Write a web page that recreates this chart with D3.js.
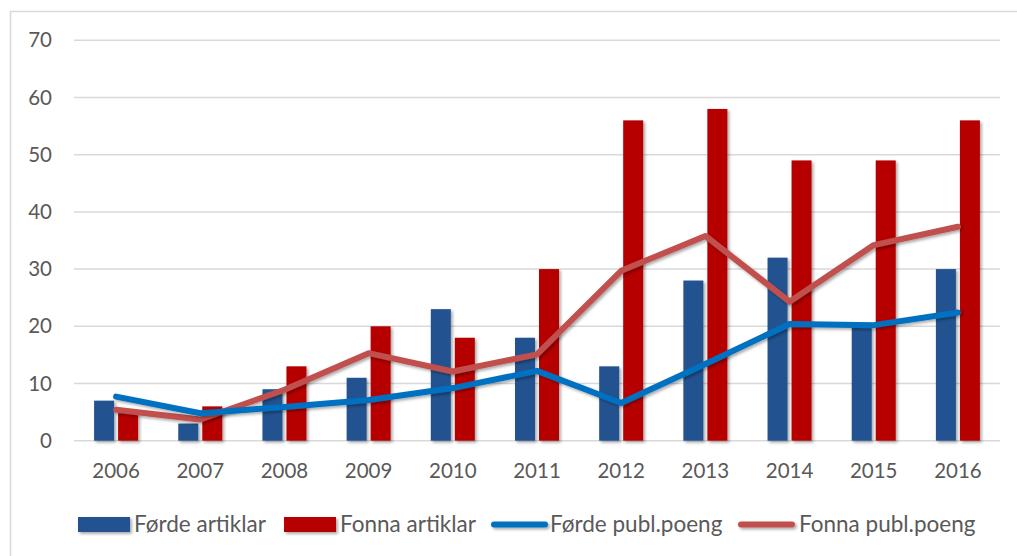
<!DOCTYPE html>
<html>
<head>
<meta charset="utf-8">
<script src="https://cdn.jsdelivr.net/npm/d3@7"></script>
<style>
html,body{margin:0;padding:0;background:#fff;}
svg{display:block;}
</style>
</head>
<body>
<svg id="chart" width="1017" height="556"></svg>
<script>
const years = ["2006","2007","2008","2009","2010","2011","2012","2013","2014","2015","2016"];
const fordeArtiklar = [7,3,9,11,23,18,13,28,32,20,30];
const fonnaArtiklar = [5,6,13,20,18,30,56,58,49,49,56];
const fordePoeng = [7.7,4.8,5.9,7.1,9.2,12.2,6.6,13.4,20.4,20.2,22.4];
const fonnaPoeng = [5.4,3.7,8.9,15.3,12.1,15.1,29.7,35.8,24.3,34.2,37.4];
const yTicks = [0,10,20,30,40,50,60,70];
const seriesNames = ["Førde artiklar","Fonna artiklar","Førde publ.poeng","Fonna publ.poeng"];
const colors = {bar1:"#245390", bar2:"#B60606", line1:"#0070C0", line2:"#C0504D"};

const svg = d3.select("#chart");
const font = "Lato, 'Open Sans', sans-serif";

const defs = svg.append("defs");
const f = defs.append("filter").attr("id","shadow").attr("filterUnits","userSpaceOnUse")
  .attr("x",0).attr("y",0).attr("width",1017).attr("height",556);
f.append("feDropShadow").attr("dx",1.8).attr("dy",1.8).attr("stdDeviation",1.4).attr("flood-color","#000").attr("flood-opacity",0.35);

// outer frame
svg.append("rect").attr("x",10.5).attr("y",11.5).attr("width",1012).attr("height",560)
  .attr("fill","none").attr("stroke","#d9d9d9").attr("stroke-width",1.5);

const x = d3.scaleBand().domain(years).range([74,1000]).padding(0);
const y = d3.scaleLinear().domain([0,70]).range([440.7,40.3]);
const x1 = d3.scaleBand().domain(["a","b"]).range([-22,22]).paddingInner(1/6);

// grid
svg.append("g").selectAll("line").data(yTicks).join("line")
  .attr("x1",74).attr("x2",1000)
  .attr("y1",d=>y(d)).attr("y2",d=>y(d))
  .attr("stroke","#d9d9d9").attr("stroke-width",1.5);

// y axis labels
svg.append("g").selectAll("text").data(yTicks).join("text")
  .attr("x",52).attr("y",d=>y(d)).attr("dy","0.35em")
  .attr("text-anchor","end").attr("font-family",font).attr("font-size",20.5)
  .attr("fill","#595959").text(d=>d);

// x axis labels
svg.append("g").selectAll("text").data(years).join("text")
  .attr("x",d=>x(d)+x.bandwidth()/2).attr("y",471).attr("dy","0.35em")
  .attr("text-anchor","middle").attr("font-family",font).attr("font-size",20.5)
  .attr("fill","#595959").text(d=>d);

const cx = d => x(d)+x.bandwidth()/2;

// bars
const bars = svg.append("g").attr("filter","url(#shadow)");
bars.selectAll("rect.b1").data(years).join("rect").attr("class","b1")
  .attr("x",(d)=>cx(d)+x1("a")).attr("width",x1.bandwidth())
  .attr("y",(d,i)=>y(fordeArtiklar[i])).attr("height",(d,i)=>y(0)-y(fordeArtiklar[i]))
  .attr("fill",colors.bar1);
bars.selectAll("rect.b2").data(years).join("rect").attr("class","b2")
  .attr("x",(d)=>cx(d)+x1("b")).attr("width",x1.bandwidth())
  .attr("y",(d,i)=>y(fonnaArtiklar[i])).attr("height",(d,i)=>y(0)-y(fonnaArtiklar[i]))
  .attr("fill",colors.bar2);

// lines
const line = d3.line().x((d,i)=>cx(years[i])).y(d=>y(d));
svg.append("path").datum(fonnaPoeng).attr("d",line).attr("fill","none")
  .attr("stroke",colors.line2).attr("stroke-width",6).attr("stroke-linecap","round").attr("stroke-linejoin","round")
  .attr("filter","url(#shadow)");
svg.append("path").datum(fordePoeng).attr("d",line).attr("fill","none")
  .attr("stroke",colors.line1).attr("stroke-width",6).attr("stroke-linecap","round").attr("stroke-linejoin","round")
  .attr("filter","url(#shadow)");

// legend
const legend = [
  {name:seriesNames[0], type:"bar", color:colors.bar1, x:78, tx:134},
  {name:seriesNames[1], type:"bar", color:colors.bar2, x:284, tx:340},
  {name:seriesNames[2], type:"line", color:colors.line1, x:491, tx:550},
  {name:seriesNames[3], type:"line", color:colors.line2, x:738, tx:799}
];
const lg = svg.append("g");
legend.forEach(l=>{
  if(l.type==="bar"){
    lg.append("rect").attr("x",l.x).attr("y",517).attr("width",52).attr("height",15)
      .attr("fill",l.color).attr("filter","url(#shadow)");
  } else {
    lg.append("line").attr("x1",l.x+3).attr("x2",l.x+54).attr("y1",524.5).attr("y2",524.5)
      .attr("stroke",l.color).attr("stroke-width",6).attr("stroke-linecap","round").attr("filter","url(#shadow)");
  }
  lg.append("text").attr("x",l.tx).attr("y",524.5).attr("dy","0.35em")
    .attr("font-family",font).attr("font-size",22.5).attr("fill","#595959").text(l.name);
});
</script>
</body>
</html>
